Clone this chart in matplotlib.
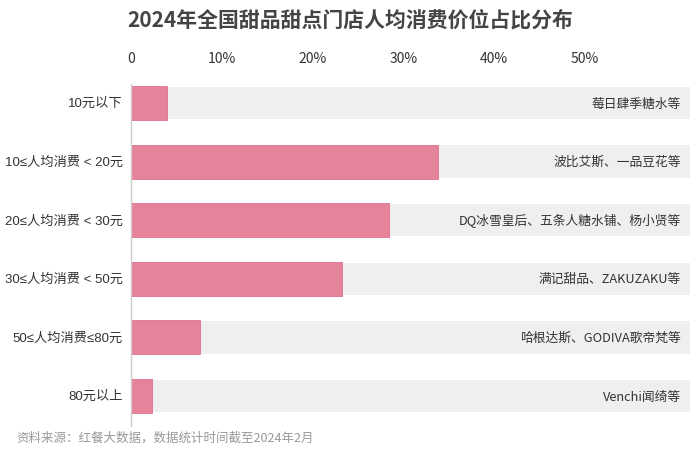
import matplotlib.pyplot as plt

plt.rcParams['font.family'] = ['Noto Sans CJK SC', 'DejaVu Sans']

categories = ['10元以下', '10≤人均消费 < 20元', '20≤人均消费 < 30元',
              '30≤人均消费 < 50元', '50≤人均消费≤80元', '80元以上']
shares = [4.0, 33.8, 28.4, 23.3, 7.6, 2.3]
brands = ['莓日肆季糖水等', '波比艾斯、一品豆花等', 'DQ冰雪皇后、五条人糖水铺、杨小贤等',
          '满记甜品、ZAKUZAKU等', '哈根达斯、GODIVA歌帝梵等', 'Venchi闻绮等']
ticks = [0, 10, 20, 30, 40, 50]
tick_labels = ['0', '10%', '20%', '30%', '40%', '50%']

xmax = 61.6

fig = plt.figure(figsize=(7, 4.52), dpi=100)
ax = fig.add_axes([131 / 700, 1 - 427 / 452, (690 - 131) / 700, (427 - 85) / 452])

y = list(range(len(categories)))
ax.barh(y, [xmax] * len(y), height=0.55, color='#efefef', zorder=1)
ax.barh(y, shares, height=0.58, color='#e5839b', edgecolor='#e07090',
        linewidth=0.6, zorder=2)

for i, (cat, br) in enumerate(zip(categories, brands)):
    ax.text(-0.9, i, cat, ha='right', va='center', fontsize=9.5, color='#333333',
            family=['Liberation Sans', 'Noto Sans CJK SC'])
    ax.text(xmax - 1.0, i, br, ha='right', va='center', fontsize=9.2,
            color='#333333', zorder=3)

ax.set_xlim(0, xmax)
ax.set_ylim(5.51, -0.324)
ax.xaxis.tick_top()
ax.set_xticks(ticks)
ax.set_xticklabels(tick_labels, fontsize=10, color='#333333')
ax.tick_params(axis='x', length=0, pad=14)
ax.set_yticks([])
for s in ['top', 'right', 'bottom']:
    ax.spines[s].set_visible(False)
ax.spines['left'].set_color('#cccccc')
ax.spines['left'].set_linewidth(1)

fig.text(0.5, 1 - 20 / 452, '2024年全国甜品甜点门店人均消费价位占比分布',
         ha='center', va='center', fontsize=15, fontweight='bold', color='#444444')
fig.text(16 / 700, 1 - 438 / 452, '资料来源：红餐大数据，数据统计时间截至2024年2月',
         ha='left', va='center', fontsize=9, color='#999999')

fig.savefig('out.png', dpi=100)
